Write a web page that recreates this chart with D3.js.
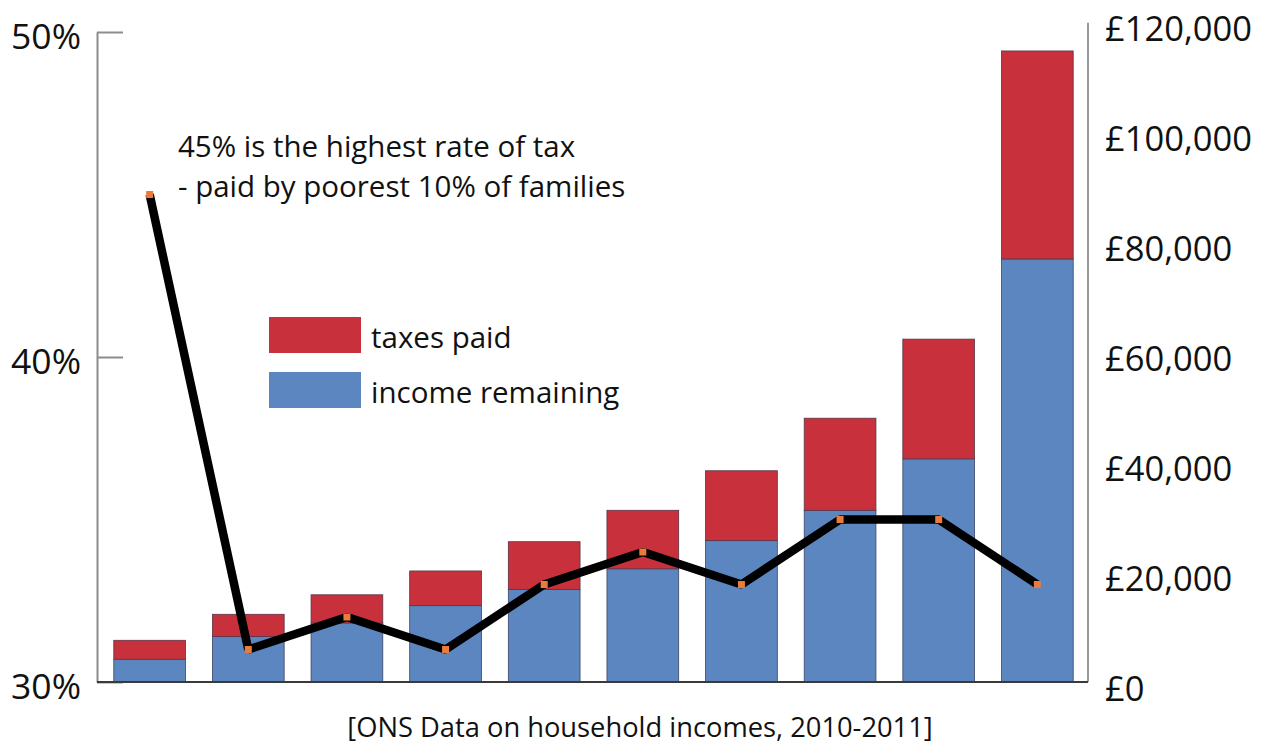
<!DOCTYPE html>
<html>
<head>
<meta charset="utf-8">
<script src="https://cdn.jsdelivr.net/npm/d3@7"></script>
<style>
  html, body { margin: 0; padding: 0; background: #ffffff; }
  svg { display: block; font-family: "Open Sans", "Noto Sans", sans-serif; }
</style>
</head>
<body>
<svg id="chart" width="1270" height="747"></svg>
<script>
// ---- data ----
const deciles = ["1", "2", "3", "4", "5", "6", "7", "8", "9", "10"];
const incomeRemaining = [4200, 8400, 10900, 14100, 17100, 20900, 26100, 31700, 41200, 78100];
const taxesPaid = [3500, 4100, 5200, 6400, 8800, 10800, 12900, 17000, 22100, 38400];
const taxRate = [45, 31, 32, 31, 33, 34, 33, 35, 35, 33];
const pctTicks = [30, 40, 50];
const moneyTicks = [0, 20000, 40000, 60000, 80000, 100000, 120000];
const legendLabels = ["taxes paid", "income remaining"];
const annotation = ["45% is the highest rate of tax", "- paid by poorest 10% of families"];
const footer = "[ONS Data on household incomes, 2010-2011]";

// ---- styles ----
const RED = "#c8313b";
const BLUE = "#5b86bf";
const ORANGE = "#ea7b3c";

const svg = d3.select("#chart");

const x = d3.scaleBand().domain(deciles).range([99, 1088])
  .paddingInner(0.2727).paddingOuter(0.15);
const yMoney = d3.scaleLinear().domain([0, 120000]).range([682, 32]);
const yPct = d3.scaleLinear().domain([30, 50]).range([682, 32]);
// right-hand labels are spaced slightly wider than the plot scale in the reference
const yMoneyLabel = d3.scaleLinear().domain([0, 120000]).range([700, 40]);

const rows = deciles.map((d, i) => ({
  d, rem: incomeRemaining[i], tax: taxesPaid[i], rate: taxRate[i]
}));

// bars
const g = svg.append("g");
g.selectAll("rect.rem").data(rows).join("rect")
  .attr("class", "rem")
  .attr("x", r => x(r.d)).attr("width", x.bandwidth())
  .attr("y", r => yMoney(r.rem)).attr("height", r => yMoney(0) - yMoney(r.rem))
  .attr("fill", BLUE).attr("stroke", "#3d4466").attr("stroke-width", 0.8);
g.selectAll("rect.tax").data(rows).join("rect")
  .attr("class", "tax")
  .attr("x", r => x(r.d)).attr("width", x.bandwidth())
  .attr("y", r => yMoney(r.rem + r.tax)).attr("height", r => yMoney(r.rem) - yMoney(r.rem + r.tax))
  .attr("fill", RED).attr("stroke", "#5a3348").attr("stroke-width", 0.8);

// left axis
const leftAxis = d3.axisLeft(yPct).tickValues(pctTicks)
  .tickFormat(d => d + "%").tickSizeInner(-26).tickSizeOuter(0).tickPadding(16);
const gl = svg.append("g").attr("transform", "translate(97,0)").call(leftAxis);
gl.select(".domain").attr("stroke", "#8c8c8c").attr("stroke-width", 2);
gl.selectAll(".tick line").attr("stroke", "#8c8c8c").attr("stroke-width", 2);
gl.selectAll(".tick text").attr("dy", 16).attr("font-size", 35.5)
  .attr("fill", "#111").attr("font-family", "Open Sans");

// right axis line
const rightAxis = d3.axisRight(yMoney).tickValues([]).tickSizeOuter(0);
const gr = svg.append("g").attr("transform", "translate(1088,0)").call(rightAxis);
gr.select(".domain").attr("stroke", "#999").attr("stroke-width", 2)
  .attr("d", `M0,${yMoney(0)}V${yMoney(121700)}`);
// right axis labels
const rightLabels = d3.axisRight(yMoneyLabel).tickValues(moneyTicks)
  .tickFormat(d => "£" + d3.format(",")(d)).tickSize(0).tickPadding(17);
const grl = svg.append("g").attr("transform", "translate(1088,0)").call(rightLabels);
grl.select(".domain").remove();
grl.selectAll(".tick text").attr("dy", 0).attr("font-size", 34.5)
  .attr("fill", "#111").attr("font-family", "Open Sans");

// bottom axis
const bottomAxis = d3.axisBottom(x).tickSize(0).tickFormat("");
const gb = svg.append("g").attr("transform", `translate(0,${yMoney(0)})`).call(bottomAxis);
gb.select(".domain").attr("stroke", "#3a3a3a").attr("stroke-width", 2)
  .attr("d", "M97,0H1088");

// line (tax rate)
const cx = r => x(r.d) + x.bandwidth() / 2;
const line = d3.line().x(cx).y(r => yPct(r.rate));
svg.append("path").datum(rows).attr("d", line)
  .attr("fill", "none").attr("stroke", "#000").attr("stroke-width", 8.5)
  .attr("stroke-linejoin", "bevel");
svg.selectAll("rect.mk").data(rows).join("rect")
  .attr("class", "mk")
  .attr("x", r => cx(r) - 3.5).attr("y", r => yPct(r.rate) - 3.5)
  .attr("width", 7).attr("height", 7).attr("fill", ORANGE);

// legend
const legend = svg.append("g").attr("transform", "translate(269,317)");
const lg = legend.selectAll("g").data(legendLabels).join("g")
  .attr("transform", (d, i) => `translate(0,${i * 55})`);
lg.append("rect").attr("width", 92).attr("height", 36)
  .attr("fill", (d, i) => i === 0 ? RED : BLUE);
lg.append("text").attr("x", 102).attr("y", 31).text(d => d)
  .attr("font-size", 29.5).attr("fill", "#111");

// annotation
svg.append("g").selectAll("text").data(annotation).join("text")
  .attr("x", 178).attr("y", (d, i) => 157 + i * 40)
  .attr("font-size", 29.5).attr("fill", "#111").text(d => d);

// footer
svg.append("text").attr("x", 640).attr("y", 737).attr("text-anchor", "middle")
  .attr("font-size", 27.3).attr("fill", "#111").text(footer);
</script>
</body>
</html>
